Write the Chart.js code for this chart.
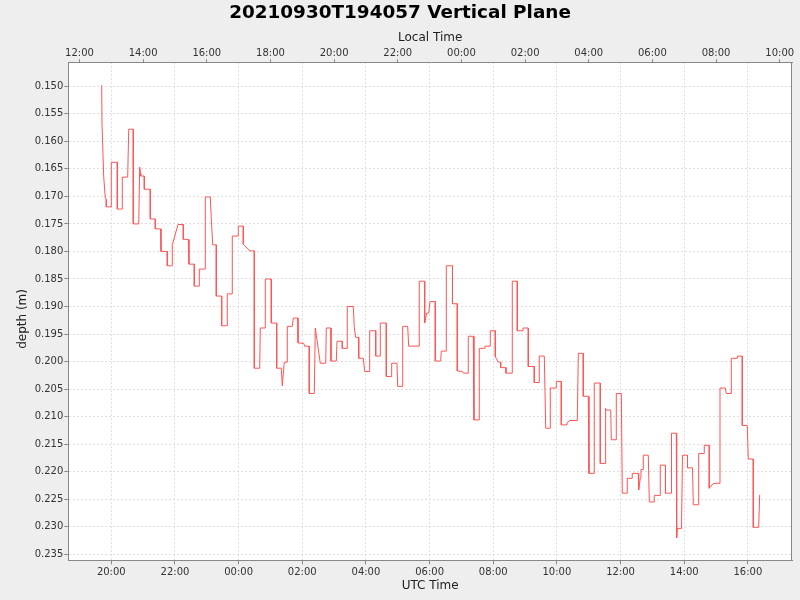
<!DOCTYPE html>
<html>
<head>
<meta charset="utf-8">
<script src="https://cdn.jsdelivr.net/npm/chart.js@4.4.1/dist/chart.umd.min.js"></script>
<style>
  html, body { margin: 0; padding: 0; background: #eeeeee; }
  #wrap { width: 800px; height: 600px; }
</style>
</head>
<body>
<div id="wrap"><canvas id="c" width="800" height="600"></canvas></div>
<script>
// Time: hours since 2021-09-30 00:00 UTC
const times = [
19.698,19.708,19.761,19.811,19.843,19.843,20.000,20.000,20.189,20.189,
20.346,20.346,20.515,20.547,20.691,20.691,20.861,20.892,20.924,20.924,
21.037,21.037,21.225,21.225,21.382,21.382,21.552,21.561,21.759,21.759,
21.916,21.916,22.096,22.262,22.262,22.419,22.441,22.608,22.608,22.765,
22.765,22.953,22.953,23.110,23.139,23.186,23.299,23.299,23.468,23.468,
23.644,23.644,23.801,23.801,23.990,23.990,24.147,24.147,24.358,24.493,
24.493,24.662,24.681,24.838,24.838,25.027,25.027,25.196,25.196,25.341,
25.372,25.435,25.529,25.529,25.686,25.718,25.866,25.866,26.045,26.076,
26.220,26.220,26.378,26.409,26.566,26.736,26.755,26.902,26.902,27.069,
27.091,27.257,27.257,27.414,27.414,27.603,27.634,27.678,27.773,27.773,
27.917,27.961,28.118,28.118,28.307,28.307,28.451,28.451,28.640,28.640,
28.809,28.809,28.976,28.998,29.155,29.155,29.312,29.343,29.676,29.676,
29.846,29.846,29.909,29.972,30.013,30.179,30.179,30.349,30.368,30.525,
30.525,30.719,30.719,30.870,30.870,31.027,31.059,31.216,31.216,31.373,
31.395,31.561,31.561,31.719,31.740,31.907,31.907,32.064,32.064,32.158,
32.234,32.234,32.400,32.400,32.598,32.598,32.755,32.755,32.934,32.934,
33.101,33.101,33.289,33.289,33.446,33.446,33.604,33.648,33.792,33.792,
33.981,33.981,34.138,34.138,34.317,34.317,34.411,34.640,34.672,34.829,
34.829,34.986,35.008,35.174,35.174,35.363,35.363,35.520,35.520,35.542,
35.690,35.709,35.866,35.866,36.023,36.055,36.211,36.211,36.368,36.368,
36.557,36.569,36.619,36.641,36.714,36.714,36.871,36.903,37.059,37.059,
37.248,37.248,37.411,37.411,37.600,37.600,37.751,37.763,37.782,37.914,
37.946,38.103,38.103,38.260,38.285,38.454,38.454,38.630,38.630,38.787,
38.787,38.904,38.967,39.124,39.124,39.290,39.322,39.479,39.479,39.667,
39.667,39.824,39.824,39.981,40.013,40.170,40.170,40.339,40.371
];
const depths = [
0.1498,0.1567,0.1664,0.1703,0.1705,0.1719,0.1719,0.1638,0.1638,0.1723,
0.1723,0.1665,0.1665,0.1578,0.1578,0.1750,0.1750,0.1647,0.1658,0.1663,
0.1663,0.1687,0.1687,0.1741,0.1741,0.1759,0.1759,0.1800,0.1800,0.1826,
0.1826,0.1788,0.1751,0.1751,0.1778,0.1778,0.1823,0.1823,0.1863,0.1863,
0.1832,0.1832,0.1701,0.1701,0.1737,0.1788,0.1788,0.1881,0.1881,0.1935,
0.1935,0.1877,0.1877,0.1772,0.1772,0.1754,0.1754,0.1787,0.1799,0.1799,
0.2012,0.2012,0.1939,0.1939,0.1850,0.1850,0.1930,0.1930,0.2012,0.2012,
0.2044,0.2001,0.2001,0.1936,0.1936,0.1921,0.1921,0.1966,0.1967,0.1972,
0.1972,0.2058,0.2058,0.1939,0.2003,0.2003,0.1939,0.1939,0.1999,0.1999,
0.1963,0.1963,0.1976,0.1976,0.1900,0.1900,0.1938,0.1956,0.1956,0.1994,
0.1994,0.2018,0.2018,0.1944,0.1944,0.1990,0.1990,0.1930,0.1930,0.2027,
0.2027,0.2003,0.2003,0.2045,0.2045,0.1936,0.1936,0.1972,0.1972,0.1854,
0.1854,0.1930,0.1912,0.1912,0.1891,0.1891,0.1999,0.1999,0.1981,0.1981,
0.1826,0.1826,0.1895,0.1895,0.2017,0.2018,0.2021,0.2021,0.1954,0.1954,
0.2106,0.2106,0.1976,0.1976,0.1972,0.1972,0.1944,0.1944,0.1991,0.2001,
0.2001,0.2011,0.2011,0.2021,0.2021,0.1854,0.1854,0.1944,0.1944,0.1939,
0.1939,0.2009,0.2009,0.2038,0.2038,0.1990,0.1990,0.2121,0.2121,0.2048,
0.2048,0.2036,0.2036,0.2115,0.2115,0.2111,0.2107,0.2107,0.1985,0.1985,
0.2063,0.2063,0.2203,0.2203,0.2039,0.2039,0.2185,0.2185,0.2085,0.2088,
0.2088,0.2142,0.2142,0.2058,0.2058,0.2239,0.2239,0.2212,0.2212,0.2203,
0.2203,0.2233,0.2212,0.2196,0.2196,0.2170,0.2170,0.2255,0.2255,0.2243,
0.2243,0.2188,0.2188,0.2239,0.2239,0.2130,0.2130,0.2320,0.2303,0.2303,
0.2170,0.2170,0.2193,0.2193,0.2260,0.2260,0.2167,0.2167,0.2152,0.2152,
0.2230,0.2222,0.2221,0.2221,0.2048,0.2048,0.2058,0.2058,0.1994,0.1994,
0.1990,0.1990,0.2116,0.2116,0.2177,0.2177,0.2301,0.2301,0.2242
];
const utcTickHours = [20,22,24,26,28,30,32,34,36,38,40];
const utcTickLabels = ["20:00","22:00","00:00","02:00","04:00","06:00","08:00","10:00","12:00","14:00","16:00"];
const localTickHours = [19,21,23,25,27,29,31,33,35,37,39,41];
const localTickLabels = ["12:00","14:00","16:00","18:00","20:00","22:00","00:00","02:00","04:00","06:00","08:00","10:00"];
const depthTicks = [0.150,0.155,0.160,0.165,0.170,0.175,0.180,0.185,0.190,0.195,0.200,0.205,0.210,0.215,0.220,0.225,0.230,0.235];
const depthTickLabels = depthTicks.map(v => v.toFixed(3));
const xRange = [18.649, 41.386];
const yRange = [0.14564, 0.23609];

const FONT = "'DejaVu Sans', sans-serif";
const points = times.map((t, i) => ({x: t, y: depths[i]}));

const bgPlugin = {
  id: 'bg',
  beforeDraw(chart) {
    const {ctx, chartArea: a} = chart;
    ctx.save();
    ctx.fillStyle = '#eeeeee';
    ctx.fillRect(0, 0, chart.width, chart.height);
    ctx.fillStyle = '#ffffff';
    ctx.fillRect(a.left, a.top, a.right - a.left, a.bottom - a.top);
    ctx.restore();
  },
  afterDraw(chart) {
    const {ctx, chartArea: a} = chart;
    ctx.save();
    ctx.strokeStyle = '#888888';
    ctx.lineWidth = 1;
    ctx.beginPath();
    ctx.moveTo(Math.round(a.right) - 0.5, a.top);
    ctx.lineTo(Math.round(a.right) - 0.5, a.bottom);
    ctx.stroke();
    ctx.restore();
  }
};

function setTicks(values) {
  return function(scale) { scale.ticks = values.map(v => ({value: v})); };
}

new Chart(document.getElementById('c'), {
  type: 'line',
  data: {
    datasets: [{
      data: points,
      xAxisID: 'x',
      yAxisID: 'y',
      borderColor: '#ff5555',
      borderWidth: 1,
      pointRadius: 0,
      tension: 0,
      fill: false
    }]
  },
  plugins: [bgPlugin],
  options: {
    responsive: false,
    animation: false,
    devicePixelRatio: 1,
    layout: { padding: { left: 8, right: 8, top: 0, bottom: 0 } },
    plugins: {
      legend: { display: false },
      tooltip: { enabled: false },
      title: {
        display: true,
        text: '20210930T194057 Vertical Plane',
        color: '#000000',
        font: { family: FONT, size: 18.4, weight: 'bold' },
        padding: { top: 2, bottom: 0 }
      }
    },
    scales: {
      x: {
        type: 'linear',
        position: 'bottom',
        min: xRange[0], max: xRange[1],
        afterBuildTicks: setTicks(utcTickHours),
        afterFit(s) { s.height = 39.7; },
        ticks: {
          autoSkip: false, maxRotation: 0, padding: 2,
          color: '#333333',
          font: { family: FONT, size: 10 },
          callback: (v) => utcTickLabels[utcTickHours.indexOf(v)]
        },
        grid: { color: '#dedede', tickColor: '#888888', tickLength: 4, drawTicks: true },
        border: { display: true, color: '#888888', width: 1, dash: [2, 2] },
        title: {
          display: true, text: 'UTC Time', color: '#222222',
          font: { family: FONT, size: 12 },
          padding: { top: 0, bottom: 7 }
        }
      },
      x2: {
        type: 'linear',
        position: 'top',
        min: xRange[0], max: xRange[1],
        afterBuildTicks: setTicks(localTickHours),
        afterFit(s) { s.height = 38.2; },
        ticks: {
          autoSkip: false, maxRotation: 0, padding: 0,
          color: '#333333',
          font: { family: FONT, size: 10 },
          callback: (v) => localTickLabels[localTickHours.indexOf(v)]
        },
        grid: { drawOnChartArea: false, tickColor: '#888888', tickLength: 3, drawTicks: true },
        border: { display: true, color: '#888888', width: 1 },
        title: {
          display: true, text: 'Local Time', color: '#222222',
          font: { family: FONT, size: 12 },
          padding: { top: 7, bottom: 0 }
        }
      },
      y: {
        type: 'linear',
        position: 'left',
        reverse: true,
        min: yRange[0], max: yRange[1],
        afterBuildTicks: setTicks(depthTicks),
        afterFit(s) { s.width = 60.3; },
        ticks: {
          autoSkip: false, padding: 1,
          color: '#333333',
          font: { family: FONT, size: 10 },
          callback: (v) => depthTickLabels[depthTicks.indexOf(v)]
        },
        grid: { color: '#dedede', tickColor: '#888888', tickLength: 4, drawTicks: true },
        border: { display: true, color: '#888888', width: 1, dash: [2, 2] },
        title: {
          display: true, text: 'depth (m)    ', color: '#222222',
          font: { family: FONT, size: 12 },
          padding: { top: 8, bottom: 0 }
        }
      }
    }
  }
});
</script>
</body>
</html>
